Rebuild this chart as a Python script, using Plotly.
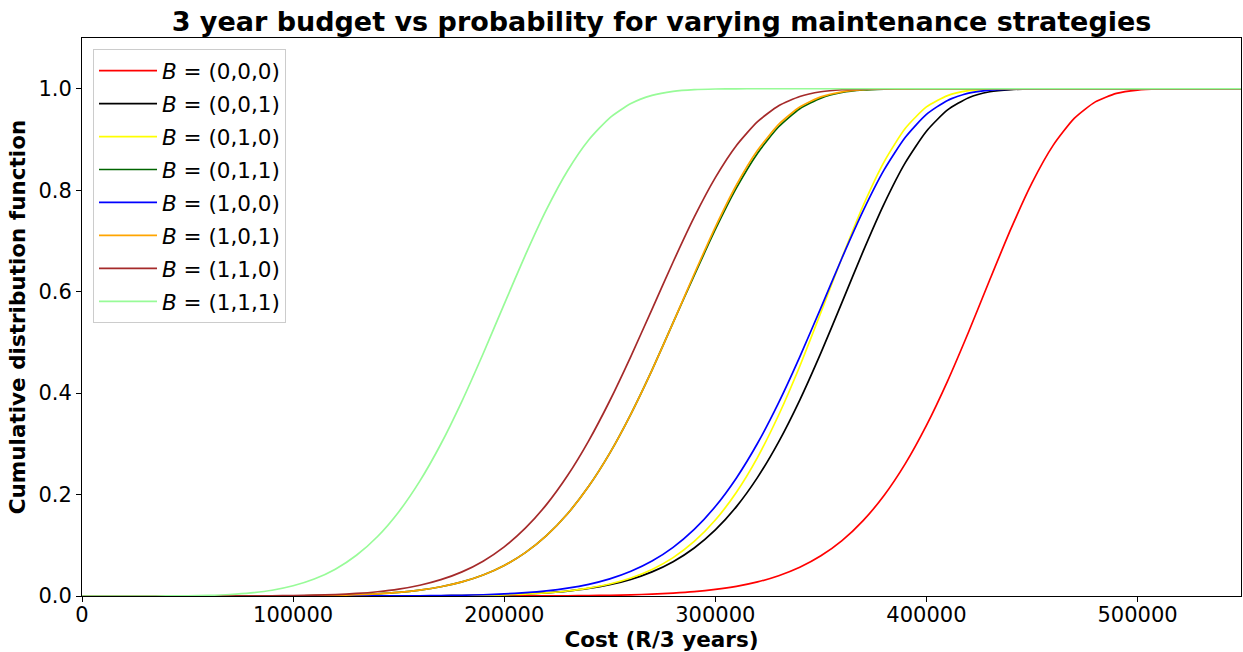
import plotly.graph_objects as go

# Cost grid (R / 3 years)
cost = [0, 10000, 20000, 30000, 40000, 50000, 60000, 70000, 80000, 90000,
        100000, 110000, 120000, 130000, 140000, 150000, 160000, 170000, 180000, 190000,
        200000, 210000, 220000, 230000, 240000, 250000, 260000, 270000, 280000, 290000,
        300000, 310000, 320000, 330000, 340000, 350000, 360000, 370000, 380000, 390000,
        400000, 410000, 420000, 430000, 440000, 450000, 460000, 470000, 480000, 490000,
        500000, 510000, 520000, 530000, 540000, 550000]

# CDF values, one list per strategy
cdf_000 = [0, 0, 0, 0, 0, 0, 0, 0, 0, 0,
           0, 0, 0, 0, 0, 0, 0, 0, 0, 0,
           0.0001, 0.0002, 0.0003, 0.0005, 0.0009, 0.0015, 0.0023, 0.0037, 0.0057, 0.0086,
           0.0130, 0.0191, 0.0278, 0.0400, 0.0566, 0.0792, 0.1092, 0.1486, 0.1986, 0.2609,
           0.3363, 0.4237, 0.5209, 0.6234, 0.7237, 0.8144, 0.8883, 0.9415, 0.9741, 0.9907,
           0.9974, 0.9995, 0.9999, 1.0, 1.0, 1.0]

cdf_001 = [0, 0, 0, 0, 0, 0, 0, 0, 0, 0,
           0, 0, 0, 0, 0.0001, 0.0001, 0.0003, 0.0005, 0.0008, 0.0015,
           0.0024, 0.0039, 0.0063, 0.0098, 0.0149, 0.0223, 0.0328, 0.0475, 0.0676, 0.0947,
           0.1303, 0.1762, 0.2338, 0.3039, 0.3863, 0.4793, 0.5789, 0.6794, 0.7735, 0.8543,
           0.9163, 0.9582, 0.9824, 0.9940, 0.9984, 0.9997, 1.0, 1.0, 1.0, 1.0,
           1.0, 1.0, 1.0, 1.0, 1.0, 1.0]

cdf_010 = [0, 0, 0, 0, 0, 0, 0, 0, 0, 0,
           0, 0, 0, 0, 0.0001, 0.0001, 0.0002, 0.0004, 0.0008, 0.0013,
           0.0023, 0.0038, 0.0062, 0.0099, 0.0155, 0.0236, 0.0355, 0.0522, 0.0756, 0.1075,
           0.1497, 0.2046, 0.2734, 0.3568, 0.4530, 0.5590, 0.6672, 0.7693, 0.8563, 0.9220,
           0.9641, 0.9865, 0.9961, 0.9992, 0.9999, 1.0, 1.0, 1.0, 1.0, 1.0,
           1.0, 1.0, 1.0, 1.0, 1.0, 1.0]

cdf_011 = [0, 0, 0, 0, 0, 0, 0, 0, 0.0001, 0.0002,
           0.0003, 0.0007, 0.0013, 0.0025, 0.0043, 0.0071, 0.0116, 0.0182, 0.0278, 0.0414,
           0.0602, 0.0856, 0.1192, 0.1622, 0.2162, 0.2817, 0.3587, 0.4453, 0.5390, 0.6320,
           0.7225, 0.8045, 0.8730, 0.9250, 0.9605, 0.9815, 0.9925, 0.9975, 0.9993, 0.9998,
           1.0, 1.0, 1.0, 1.0, 1.0, 1.0, 1.0, 1.0, 1.0, 1.0,
           1.0, 1.0, 1.0, 1.0, 1.0, 1.0]

cdf_100 = [0, 0, 0, 0, 0, 0, 0, 0, 0, 0,
           0, 0, 0.0001, 0.0001, 0.0002, 0.0003, 0.0005, 0.0009, 0.0015, 0.0025,
           0.0041, 0.0065, 0.0101, 0.0154, 0.0230, 0.0337, 0.0487, 0.0689, 0.0959, 0.1313,
           0.1764, 0.2328, 0.3011, 0.3813, 0.4715, 0.5681, 0.6663, 0.7591, 0.8404, 0.9043,
           0.9494, 0.9770, 0.9913, 0.9973, 0.9994, 0.9999, 1.0, 1.0, 1.0, 1.0,
           1.0, 1.0, 1.0, 1.0, 1.0, 1.0]

cdf_101 = [0, 0, 0, 0, 0, 0, 0, 0, 0.0001, 0.0002,
           0.0003, 0.0007, 0.0013, 0.0025, 0.0043, 0.0071, 0.0116, 0.0182, 0.0278, 0.0414,
           0.0602, 0.0856, 0.1192, 0.1622, 0.2162, 0.2817, 0.3587, 0.4453, 0.5390, 0.6347,
           0.7272, 0.8102, 0.8785, 0.9297, 0.9639, 0.9839, 0.9939, 0.9981, 0.9995, 0.9999,
           1.0, 1.0, 1.0, 1.0, 1.0, 1.0, 1.0, 1.0, 1.0, 1.0,
           1.0, 1.0, 1.0, 1.0, 1.0, 1.0]

cdf_110 = [0, 0, 0, 0, 0, 0, 0, 0, 0.0002, 0.0004,
           0.0008, 0.0016, 0.0029, 0.0050, 0.0084, 0.0135, 0.0212, 0.0322, 0.0476, 0.0687,
           0.0969, 0.1337, 0.1801, 0.2374, 0.3059, 0.3849, 0.4725, 0.5652, 0.6584, 0.7468,
           0.8247, 0.8881, 0.9351, 0.9664, 0.9847, 0.9940, 0.9980, 0.9994, 0.9999, 1.0,
           1.0, 1.0, 1.0, 1.0, 1.0, 1.0, 1.0, 1.0, 1.0, 1.0,
           1.0, 1.0, 1.0, 1.0, 1.0, 1.0]

cdf_111 = [0, 0, 0, 0, 0.0001, 0.0005, 0.0013, 0.0030, 0.0061, 0.0114,
           0.0201, 0.0334, 0.0528, 0.0803, 0.1173, 0.1657, 0.2264, 0.2996, 0.3843, 0.4776,
           0.5754, 0.6720, 0.7616, 0.8384, 0.8990, 0.9427, 0.9708, 0.9869, 0.9949, 0.9983,
           0.9995, 0.9999, 1.0, 1.0, 1.0, 1.0, 1.0, 1.0, 1.0, 1.0,
           1.0, 1.0, 1.0, 1.0, 1.0, 1.0, 1.0, 1.0, 1.0, 1.0,
           1.0, 1.0, 1.0, 1.0, 1.0, 1.0]

labels = ["(0,0,0)", "(0,0,1)", "(0,1,0)", "(0,1,1)",
          "(1,0,0)", "(1,0,1)", "(1,1,0)", "(1,1,1)"]
series = [cdf_000, cdf_001, cdf_010, cdf_011, cdf_100, cdf_101, cdf_110, cdf_111]
colors = ["red", "black", "yellow", "darkgreen", "blue", "orange", "brown", "palegreen"]

x_ticks = [0, 100000, 200000, 300000, 400000, 500000]
y_ticks = [0.0, 0.2, 0.4, 0.6, 0.8, 1.0]

fig = go.Figure()
for lab, vals, col in zip(labels, series, colors):
    fig.add_trace(go.Scatter(
        x=cost, y=vals, mode="lines",
        name="<i>B</i> = " + lab,
        legendgroup=lab,
        line=dict(color=col, width=1.7, shape="spline", smoothing=0.6),
    ))

fig.update_layout(
    width=1243, height=652,
    margin=dict(l=82, r=2, t=38, b=56),
    paper_bgcolor="white", plot_bgcolor="white",
    font=dict(family="DejaVu Sans", size=21, color="black"),
    title=dict(
        text="3 year budget vs probability for varying maintenance strategies",
        font=dict(size=27, weight="bold", color="black"),
        x=0.5, xref="paper", xanchor="center",
        y=1 - 22 / 652, yref="container", yanchor="middle",
    ),
    legend=dict(
        x=0.0095, y=0.98, xanchor="left", yanchor="top",
        bgcolor="white", bordercolor="#cccccc", borderwidth=1,
        font=dict(size=21.5), tracegroupgap=2, itemwidth=58,
    ),
    showlegend=True,
)

fig.update_xaxes(
    range=[0, 549000], tickvals=x_ticks, ticktext=[str(v) for v in x_ticks],
    ticks="outside", ticklen=5, tickwidth=1, tickcolor="black",
    ticklabelstandoff=-5,
    showline=True, linecolor="black", linewidth=1, mirror=True,
    showgrid=False, zeroline=False, automargin=False,
    title=dict(text="Cost (R/3 years)", font=dict(size=21.5, weight="bold"), standoff=0),
)
fig.update_yaxes(
    range=[0, 1.1], tickvals=y_ticks, ticktext=["%.1f" % v for v in y_ticks],
    ticks="outside", ticklen=5, tickwidth=1, tickcolor="black",
    showline=True, linecolor="black", linewidth=1, mirror=True,
    showgrid=False, zeroline=False, automargin=False,
    title=dict(text="Cumulative distribution function", font=dict(size=21.5, weight="bold"), standoff=6),
)

fig.write_html("out.html")
